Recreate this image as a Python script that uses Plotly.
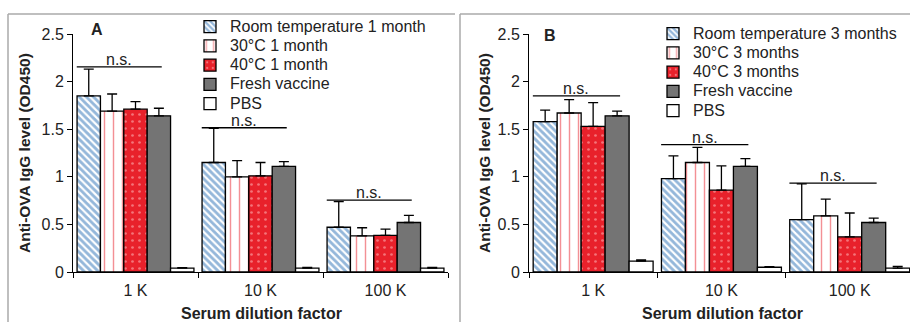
import plotly.graph_objects as go

W, H = 910, 322

categories = ["1 K", "10 K", "100 K"]

names_a = ["Room temperature 1 month", "30°C 1 month", "40°C 1 month", "Fresh vaccine", "PBS"]
names_b = ["Room temperature 3 months", "30°C 3 months", "40°C 3 months", "Fresh vaccine", "PBS"]

# Panel A values (OD450) and upper error
a_room = [1.85, 1.15, 0.47]
a_room_err = [0.28, 0.36, 0.27]
a_30c = [1.69, 1.00, 0.38]
a_30c_err = [0.18, 0.17, 0.085]
a_40c = [1.71, 1.01, 0.385]
a_40c_err = [0.08, 0.14, 0.065]
a_fresh = [1.64, 1.11, 0.52]
a_fresh_err = [0.08, 0.05, 0.075]
a_pbs = [0.04, 0.04, 0.04]
a_pbs_err = [0.005, 0.008, 0.008]
a_ns = [2.155, 1.515, 0.755]

# Panel B values
b_room = [1.58, 0.98, 0.55]
b_room_err = [0.12, 0.24, 0.375]
b_30c = [1.67, 1.15, 0.59]
b_30c_err = [0.14, 0.16, 0.175]
b_40c = [1.53, 0.86, 0.37]
b_40c_err = [0.25, 0.255, 0.25]
b_fresh = [1.64, 1.11, 0.52]
b_fresh_err = [0.05, 0.08, 0.045]
b_pbs = [0.115, 0.05, 0.04]
b_pbs_err = [0.012, 0.006, 0.02]
b_ns = [1.85, 1.337, 0.934]

y_ticks = [0, 0.5, 1, 1.5, 2, 2.5]
y_tick_labels = ["0", "0.5", "1", "1.5", "2", "2.5"]

FONT = "Liberation Sans, Arial, sans-serif"
TXT = "#222222"
BLUE = "#2a6fb5"
RED = "#e8212b"
GRAY = "#747474"
FS = 16

styles = [
    dict(color="white", pattern=dict(shape="\\", fgcolor=BLUE, bgcolor="white", size=5, solidity=0.58, fillmode="overlay")),
    dict(color="white", pattern=dict(shape="|", fgcolor=RED, bgcolor="white", size=9, solidity=0.16, fillmode="overlay")),
    dict(color=RED, pattern=dict(shape=".", fgcolor="#ffc8c8", bgcolor=RED, size=7, solidity=0.12, fillmode="overlay")),
    dict(color=GRAY),
    dict(color="white"),
]


def px_x(px):
    return px / W


def px_y(py):
    return 1 - py / H


fig = go.Figure()

panels = [
    ("x", "y", "legend", names_a,
     [(a_room, a_room_err), (a_30c, a_30c_err), (a_40c, a_40c_err), (a_fresh, a_fresh_err), (a_pbs, a_pbs_err)]),
    ("x2", "y2", "legend2", names_b,
     [(b_room, b_room_err), (b_30c, b_30c_err), (b_40c, b_40c_err), (b_fresh, b_fresh_err), (b_pbs, b_pbs_err)]),
]

for xa, ya, lg, names, series in panels:
    for i, (vals, errs) in enumerate(series):
        st = styles[i]
        marker = dict(color=st["color"], line=dict(color="black", width=1.3))
        if "pattern" in st:
            marker["pattern"] = st["pattern"]
        fig.add_trace(go.Bar(
            x=categories, y=vals, name='<span style="font-size:%dpx">%s</span>' % (FS, names[i]),
            xaxis=xa, yaxis=ya, legend=lg,
            marker=marker,
            error_y=dict(type="data", array=errs, arrayminus=[0] * len(errs), symmetric=False,
                         color="black", thickness=1.3, width=5),
        ))

axis_font = dict(family=FONT, size=FS, color=TXT)
ydom = [px_y(272), px_y(34)]

common_y = dict(range=[0, 2.5], tickvals=y_ticks, ticktext=y_tick_labels, showgrid=False, zeroline=False,
                showline=True, linecolor="black", linewidth=1, ticks="outside", ticklen=5, tickcolor="black",
                tickfont=axis_font, domain=ydom, automargin=False)
common_x = dict(showgrid=False, showline=True, linecolor="black", linewidth=1, ticks="outside", ticklen=5,
                tickcolor="black", tickson="boundaries", tickfont=axis_font, type="category",
                automargin=False, zeroline=False, ticklabelstandoff=4)

leg_common = dict(xanchor="left", yanchor="top", bgcolor="rgba(0,0,0,0)", borderwidth=0,
                  font=dict(family=FONT, size=12.5, color=TXT), tracegroupgap=0, traceorder="normal")

fig.update_layout(
    template="none",
    width=W, height=H, margin=dict(l=0, r=0, t=0, b=0, pad=0, autoexpand=False),
    paper_bgcolor="white", plot_bgcolor="white",
    barmode="group", bargap=0.065, bargroupgap=0,
    font=dict(family=FONT, size=FS, color=TXT),
    xaxis=dict(common_x, domain=[px_x(73), px_x(448)], range=[-0.5, 2.5], anchor="y"),
    yaxis=dict(common_y, anchor="x"),
    xaxis2=dict(common_x, domain=[px_x(529), 1.0], range=[-0.5, 2.47], anchor="y2"),
    yaxis2=dict(common_y, anchor="x2"),
    legend=dict(leg_common, x=px_x(190), y=px_y(12)),
    legend2=dict(leg_common, x=px_x(653), y=px_y(19)),
    showlegend=True,
)

shapes = []
annotations = []

# panel frame lines
for x0, x1 in ((8, 455), (460, 910)):
    shapes.append(dict(type="line", xref="paper", yref="paper", x0=px_x(x0), x1=px_x(x1),
                       y0=px_y(14), y1=px_y(14), line=dict(color="#aaaaaa", width=1.5)))
    shapes.append(dict(type="line", xref="paper", yref="paper", x0=px_x(x0), x1=px_x(x0),
                       y0=px_y(14), y1=0, line=dict(color="#aaaaaa", width=1.5)))

# n.s. brackets
for xa, ya, levels in (("x", "y", a_ns), ("x2", "y2", b_ns)):
    for ci, lv in enumerate(levels):
        x0, x1 = ci - 0.47, ci + 0.21
        shapes.append(dict(type="line", xref=xa, yref=ya, x0=x0, x1=x1, y0=lv, y1=lv,
                           line=dict(color="black", width=1.3)))
        annotations.append(dict(xref=xa, yref=ya, x=(x0 + x1) / 2, y=lv, text="n.s.", showarrow=False,
                                xanchor="center", yanchor="bottom", yshift=-3,
                                font=dict(family=FONT, size=FS, color=TXT)))


def paper_text(cx, cy, text, size, angle=0):
    annotations.append(dict(xref="paper", yref="paper", x=px_x(cx), y=px_y(cy), text=text, showarrow=False,
                            xanchor="center", yanchor="middle", textangle=angle,
                            font=dict(family=FONT, size=size, color=TXT)))


# panel labels
paper_text(97, 29, "<b>A</b>", 16)
paper_text(550, 35, "<b>B</b>", 16)

# axis titles
for cx in (25, 485):
    paper_text(cx, 153, "<b>Anti-OVA IgG level (OD450)</b>", 15.5, angle=-90)
for cx in (261, 722):
    paper_text(cx, 313, "<b>Serum dilution factor</b>", 16)

fig.update_layout(shapes=shapes, annotations=annotations)

fig.write_html("out.html", config={"displayModeBar": False},
               post_script="document.body.style.margin='0';document.body.style.overflow='hidden';")
